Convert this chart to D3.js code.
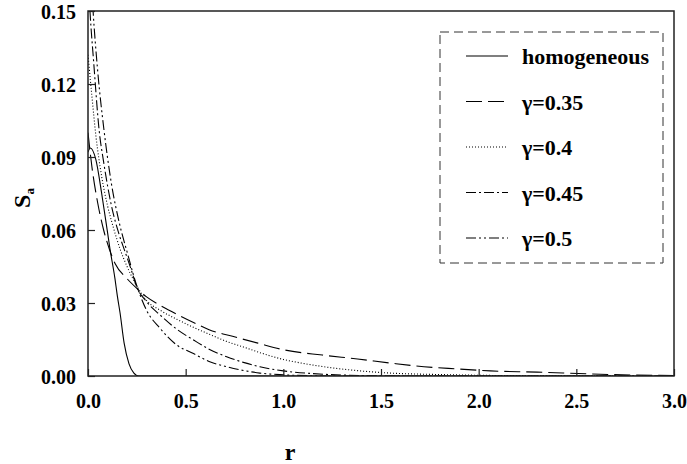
<!DOCTYPE html>
<html lang="en">
<head>
    <meta charset="UTF-8">
    <title>Sa vs r</title>
    <script src="https://d3js.org/d3.v7.min.js"></script>
    <style>
        body {
            margin: 0;
            background-color: #ffffff;
        }
        svg text {
            font-family: "Liberation Serif", "Times New Roman", Times, "DejaVu Serif", serif;
            font-weight: bold;
        }
    </style>
</head>
<body>

<svg width="687" height="464"></svg>

<script>
    // values
    const xTicks = [0, 0.5, 1.0, 1.5, 2.0, 2.5, 3.0];
    const yTicks = [0, 0.03, 0.06, 0.09, 0.12, 0.15];

    const seriesNames = ["homogeneous", "\u03b3=0.35", "\u03b3=0.4", "\u03b3=0.45", "\u03b3=0.5"];

    const rHom = [0, 0.012, 0.04, 0.07, 0.1, 0.113, 0.138, 0.15, 0.164, 0.185, 0.21, 0.235, 0.26, 1.0, 2.0, 3.0];
    const sHom = [0.092, 0.0937, 0.089, 0.075, 0.059, 0.052, 0.040, 0.033, 0.026, 0.0135, 0.005, 0.0012, 0, 0, 0, 0];

    const r035 = [0, 0.02, 0.05, 0.08, 0.11, 0.14, 0.2, 0.25, 0.3, 0.37, 0.44, 0.54, 0.62, 0.74, 0.87, 1.0, 1.2, 1.38, 1.55, 1.72, 1.89, 2.06, 2.3, 2.55, 2.8, 3.0];
    const s035 = [0.100, 0.086, 0.071, 0.060, 0.052, 0.046, 0.040, 0.036, 0.0325, 0.029, 0.026, 0.022, 0.019, 0.0163, 0.0135, 0.0108, 0.0086, 0.007, 0.0053, 0.0038, 0.0029, 0.0021, 0.0016, 0.0009, 0.0004, 0.0002];

    const r040 = [0, 0.02, 0.04, 0.07, 0.1, 0.13, 0.165, 0.2, 0.25, 0.3, 0.37, 0.45, 0.54, 0.62, 0.71, 0.8, 0.88, 1.0, 1.1, 1.2, 1.38, 1.55, 1.8, 2.0, 2.3, 2.6, 3.0];
    const s040 = [0.132, 0.115, 0.099, 0.082, 0.070, 0.061, 0.052, 0.045, 0.037, 0.031, 0.027, 0.0235, 0.020, 0.0172, 0.0142, 0.0118, 0.0096, 0.0068, 0.0052, 0.0039, 0.0022, 0.0012, 0.0006, 0.0003, 0.0001, 0, 0];

    const r045 = [0, 0.01, 0.03, 0.057, 0.08, 0.12, 0.16, 0.19, 0.22, 0.25, 0.3, 0.37, 0.45, 0.54, 0.62, 0.71, 0.8, 0.88, 1.0, 1.15, 1.3, 1.5, 1.7, 3.0];
    const s045 = [0.165, 0.15, 0.128, 0.101, 0.088, 0.070, 0.058, 0.051, 0.044, 0.0365, 0.0305, 0.025, 0.0195, 0.0148, 0.011, 0.0079, 0.0055, 0.0038, 0.0021, 0.001, 0.0004, 0.0001, 0, 0];

    const r050 = [0, 0.026, 0.05, 0.082, 0.12, 0.16, 0.2, 0.25, 0.3, 0.37, 0.45, 0.54, 0.62, 0.71, 0.8, 0.88, 1.0, 1.15, 1.3, 3.0];
    const s050 = [0.19, 0.15, 0.125, 0.101, 0.079, 0.063, 0.051, 0.037, 0.027, 0.0195, 0.013, 0.0092, 0.006, 0.0038, 0.0022, 0.0012, 0.0005, 0.0001, 0, 0];

    const rValues = [rHom, r035, r040, r045, r050];
    const sValues = [sHom, s035, s040, s045, s050];
    const dashes = [null, "16,6", "1,2", "10,3,2,3", "10,3,2,3,2,3"];

    const plot = {left: 88, right: 674, top: 11, bottom: 376};

    const svg = d3.select("svg");

    const xScale = d3.scaleLinear().domain([0, 3]).range([plot.left, plot.right]);
    const yScale = d3.scaleLinear().domain([0, 0.15]).range([plot.bottom, plot.top]);

    svg.append("defs").append("clipPath")
        .attr("id", "clip")
        .append("rect")
        .attr("x", plot.left)
        .attr("y", plot.top)
        .attr("width", plot.right - plot.left)
        .attr("height", plot.bottom - plot.top);

    // curves
    const line = d3.line()
        .x(d => xScale(d[0]))
        .y(d => yScale(d[1]))
        .curve(d3.curveMonotoneX);

    const curves = svg.append("g").attr("clip-path", "url(#clip)");
    rValues.forEach((rs, i) => {
        const pts = rs.map((r, j) => [r, sValues[i][j]]);
        curves.append("path")
            .datum(pts)
            .attr("d", line)
            .attr("fill", "none")
            .attr("stroke", "#000")
            .attr("stroke-width", 1.1)
            .attr("stroke-dasharray", dashes[i]);
    });

    // axes with inward ticks
    const xAxis = svg.append("g")
        .attr("transform", `translate(0, ${plot.bottom})`)
        .call(d3.axisBottom(xScale).tickValues(xTicks).tickSize(-7).tickFormat(d3.format(".1f")));
    const yAxis = svg.append("g")
        .attr("transform", `translate(${plot.left}, 0)`)
        .call(d3.axisLeft(yScale).tickValues(yTicks).tickSize(-7).tickFormat(d3.format(".2f")));

    [xAxis, yAxis].forEach(ax => {
        ax.attr("font-family", null).attr("font-size", null);
        ax.select(".domain").remove();
        ax.selectAll("line").attr("stroke", "#222").attr("stroke-width", 1.2);
        ax.selectAll("text")
            .attr("font-size", 20)
            .attr("fill", "#000");
    });
    xAxis.selectAll("text").attr("y", 0).attr("dy", "32px");
    yAxis.selectAll("text").attr("x", -12).attr("dy", "0.35em");

    // frame
    svg.append("rect")
        .attr("x", plot.left)
        .attr("y", plot.top)
        .attr("width", plot.right - plot.left)
        .attr("height", plot.bottom - plot.top)
        .attr("fill", "none")
        .attr("stroke", "#222")
        .attr("stroke-width", 1.5);

    // axis titles
    const yTitle = svg.append("text")
        .attr("transform", "translate(30, 198) rotate(-90)")
        .attr("text-anchor", "middle")
        .attr("font-size", 24);
    yTitle.append("tspan").text("S");
    yTitle.append("tspan").attr("font-size", 13).attr("dy", 4).text("a");

    svg.append("text")
        .attr("x", 290)
        .attr("y", 460)
        .attr("text-anchor", "middle")
        .attr("font-size", 24)
        .text("r");

    // legend
    const legend = svg.append("g");
    legend.append("rect")
        .attr("x", 440)
        .attr("y", 32)
        .attr("width", 223)
        .attr("height", 231)
        .attr("fill", "#fff")
        .attr("stroke", "#333")
        .attr("stroke-width", 1)
        .attr("stroke-dasharray", "9,5");

    const legendY = d3.scalePoint().domain(seriesNames).range([56, 238]);

    seriesNames.forEach((name, i) => {
        const y = legendY(name);
        legend.append("line")
            .attr("x1", 466)
            .attr("x2", 508)
            .attr("y1", y)
            .attr("y2", y)
            .attr("stroke", "#000")
            .attr("stroke-width", 1.1)
            .attr("stroke-dasharray", dashes[i]);
        legend.append("text")
            .attr("x", 522)
            .attr("y", y + 8)
            .attr("font-size", 22)
            .text(name);
    });
</script>

</body>
</html>
